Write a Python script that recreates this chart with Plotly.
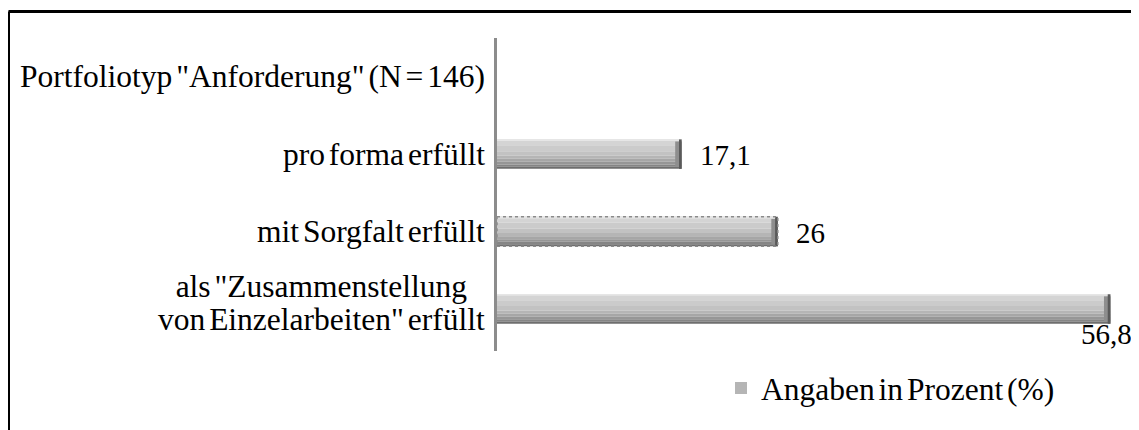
import plotly.graph_objects as go

# ---- data ----
categories = [
    'Portfoliotyp "Anforderung" (N = 146)',
    'pro forma erfüllt',
    'mit Sorgfalt erfüllt',
    'als "Zusammenstellung<br>von Einzelarbeiten" erfüllt',
]
values = [None, 17.1, 26, 56.8]
value_labels = ["", "17,1", "26", "56,8"]
series_name = "Angaben in Prozent (%)"

# ---- layout constants (page has an 8px body margin) ----
PAGE_OFF = 8
W, H = 1139 - PAGE_OFF, 430 - PAGE_OFF
ML, MR, MT, MB = 497 - PAGE_OFF, 0, 38 - PAGE_OFF, 79
PW = W - ML - MR
PH = H - MT - MB
PX_PER_UNIT = 10.8
FONT = "'Times New Roman', 'Liberation Serif', Tinos, serif"
FS_VAL = 29
FS_CAT = 31.5
WS = "word-spacing:-4px"
BAR_W = 0.38

fig = go.Figure()

# vertical gradient bands (top -> bottom) to mimic the bevelled bar
bands = [
    (0.00, 0.05, "#e6e6e6"),
    (0.05, 0.20, "#d4d4d4"),
    (0.20, 0.40, "#cbcbcb"),
    (0.40, 0.55, "#c2c2c2"),
    (0.55, 0.66, "#b5b5b5"),
    (0.66, 0.76, "#a6a6a6"),
    (0.76, 0.85, "#969696"),
    (0.85, 0.93, "#858585"),
    (0.93, 1.00, "#6e6e6e"),
]
for i, (a, b, col) in enumerate(bands):
    fig.add_trace(go.Bar(
        y=categories, x=values, orientation="h",
        width=(b - a) * BAR_W, offset=-BAR_W / 2 + a * BAR_W,
        marker=dict(color=col, line=dict(width=0)),
        name=f"<span style='{WS}'>{series_name}</span>", showlegend=(i == 4),
        hoverinfo="skip",
    ))

# darker right end cap (bevel)
cap = [0.6 if v is not None else None for v in values]
cap_base = [v - 0.6 if v is not None else None for v in values]
fig.add_trace(go.Bar(
    y=categories, x=cap, base=cap_base, orientation="h",
    width=BAR_W * 0.86, offset=-BAR_W / 2 + BAR_W * 0.07,
    marker=dict(color="#8e8e8e", line=dict(width=0)),
    showlegend=False, hoverinfo="skip",
))
cap2 = [0.25 if v is not None else None for v in values]
cap2_base = [v - 0.25 if v is not None else None for v in values]
fig.add_trace(go.Bar(
    y=categories, x=cap2, base=cap2_base, orientation="h",
    width=BAR_W, offset=-BAR_W / 2,
    marker=dict(color="#5a5a5a", line=dict(width=0)),
    showlegend=False, hoverinfo="skip",
))

# dotted outline around the "mit Sorgfalt" bar
idx = 2
fig.add_shape(type="rect", xref="x", yref="y",
              x0=0, x1=values[idx], y0=idx - BAR_W / 2, y1=idx + BAR_W / 2,
              line=dict(color="#8a8a8a", width=1.5, dash="dot"))

# category labels (centre-aligned for multi-line, tighter line spacing)
for c in categories:
    lines = c.split("<br>")
    if len(lines) > 1:
        txt = "<br>".join(f"<span style='font-size:{FS_CAT}px;{WS}'>{ln}</span>" for ln in lines)
        base_fs, ysh = 25, 6
    else:
        txt, base_fs, ysh = f"<span style='{WS}'>{c}</span>", FS_CAT, 0
    fig.add_annotation(x=0, xref="paper", y=c, yref="y", text=txt,
                       xanchor="right", yanchor="middle", align="center",
                       xshift=-10, yshift=ysh, showarrow=False,
                       font=dict(family=FONT, size=base_fs, color="black"))

# value labels
for c, v, t in zip(categories, values, value_labels):
    if v is None:
        continue
    if v > 50:
        fig.add_annotation(x=v, y=c, text=t, xanchor="center", yanchor="middle",
                           xshift=-4, yshift=-25, showarrow=False,
                           font=dict(family=FONT, size=FS_VAL, color="black"))
    else:
        fig.add_annotation(x=v, y=c, text=t, xanchor="left", yanchor="middle",
                           xshift=16, yshift=-1, showarrow=False,
                           font=dict(family=FONT, size=FS_VAL, color="black"))

# outer frame (top and left edges)
fx = (8.5 - PAGE_OFF - ML) / PW
fy = (H - MB - (11.5 - PAGE_OFF)) / PH
fig.add_shape(type="line", xref="paper", yref="paper",
              x0=fx, x1=fx, y0=-0.4, y1=fy, line=dict(color="black", width=3))
fig.add_shape(type="line", xref="paper", yref="paper",
              x0=fx, x1=1.1, y0=fy, y1=fy, line=dict(color="black", width=3))

fig.update_layout(
    width=W, height=H,
    margin=dict(l=ML, r=MR, t=MT, b=MB),
    paper_bgcolor="white", plot_bgcolor="white",
    barmode="overlay",
    font=dict(family=FONT, size=FS_CAT, color="black"),
    xaxis=dict(range=[0, PW / PX_PER_UNIT], visible=False, fixedrange=True),
    yaxis=dict(categoryorder="array", categoryarray=categories,
               autorange="reversed", showticklabels=False, ticks="",
               showline=True, linecolor="#8c8c8c", linewidth=3,
               showgrid=False, zeroline=False),
    legend=dict(x=(1060 - PAGE_OFF - ML) / PW, xanchor="right",
                y=(H - MB - (388 - PAGE_OFF)) / PH, yanchor="middle",
                bgcolor="rgba(0,0,0,0)", itemwidth=30,
                font=dict(family=FONT, size=FS_CAT, color="black")),
    showlegend=True,
)

fig.write_html("out.html")
